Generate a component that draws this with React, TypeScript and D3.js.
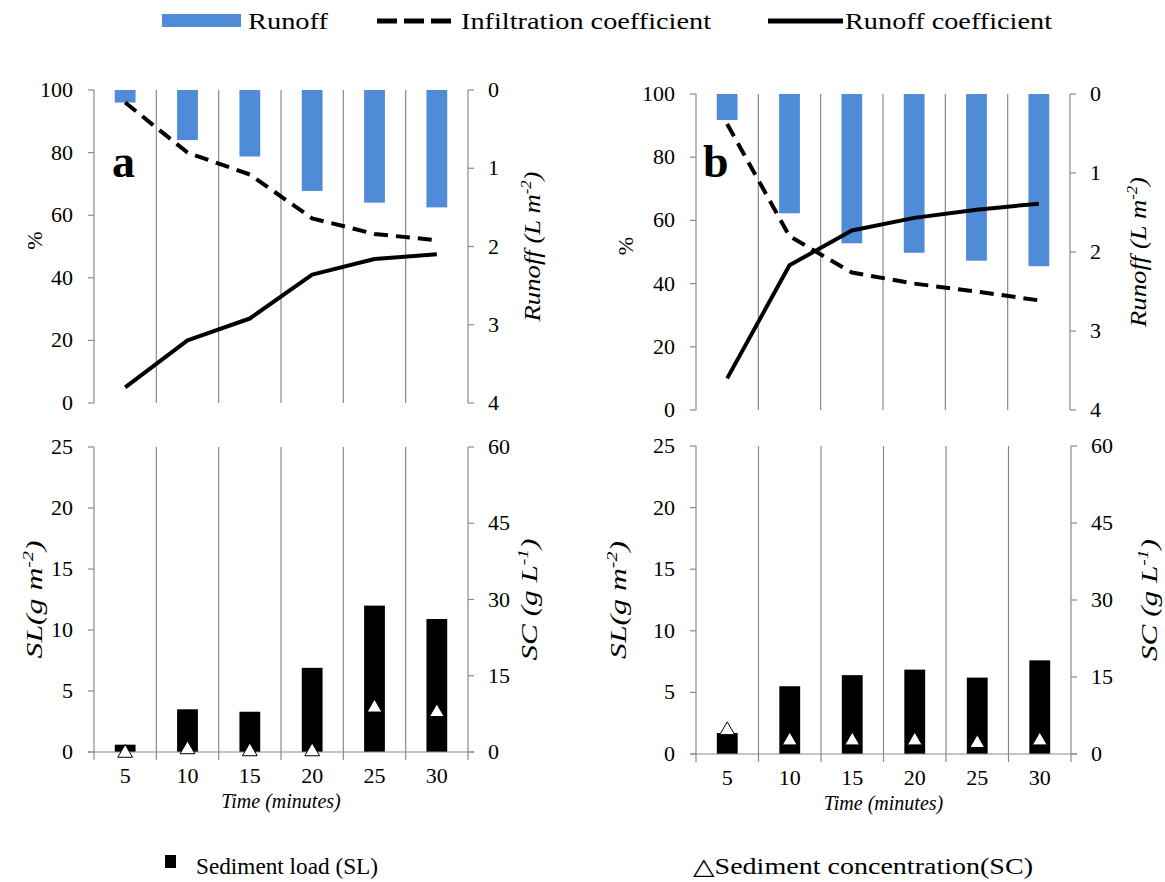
import React from "react";
import * as d3 from "d3";

// ---------- data ----------
const timeLabels = ["5", "10", "15", "20", "25", "30"];

const runoffA = [0.16, 0.64, 0.85, 1.29, 1.44, 1.5];
const infiltrationA = [96, 80, 73, 59, 54, 52];
const runoffCoefA = [5, 20, 27, 41, 46, 47.5];
const sedimentLoadA = [0.6, 3.5, 3.3, 6.9, 12.0, 10.9];
const sedimentConcA = [0, 0.7, 0.3, 0.3, 8.9, 8.0];

const runoffB = [0.33, 1.51, 1.89, 2.01, 2.11, 2.18];
const infiltrationB = [90.5, 55, 43.5, 40, 37.5, 34.7];
const runoffCoefB = [10, 45.8, 56.8, 60.8, 63.4, 65.3];
const sedimentLoadB = [1.7, 5.5, 6.4, 6.85, 6.2, 7.6];
const sedimentConcB = [4.8, 2.8, 2.8, 2.8, 2.3, 2.8];

const pctTicks = [0, 20, 40, 60, 80, 100];
const runoffTicks = [0, 1, 2, 3, 4];
const slTicks = [0, 5, 10, 15, 20, 25];
const scTicks = [0, 15, 30, 45, 60];

// ---------- style ----------
const FONT = "Liberation Serif, Times New Roman, DejaVu Serif, serif";
const GRAY = "#8a8a8a";
const BLUE = "#4F8BD6";
const TICK_FS = 22;

type Box = { x0: number; x1: number; y0: number; y1: number };

function Sup({ base, sup, after }: { base: string; sup: string; after: string }) {
  return (
    <>
      {base}
      <tspan dy={-9} fontSize={15}>{sup}</tspan>
      <tspan dy={9}>{after}</tspan>
    </>
  );
}

function TopPanel(props: {
  box: Box;
  runoff: number[];
  infil: number[];
  coef: number[];
  letter: string;
  letterX: number;
  pctX: number;
  runX: number;
}) {
  const { box, runoff, infil, coef, letter, letterX, pctX, runX } = props;
  const { x0, x1, y0, y1 } = box;
  const x = d3.scaleBand<string>().domain(timeLabels).range([x0, x1]);
  const bw = x.bandwidth();
  const cx = (i: number) => (x(timeLabels[i]) as number) + bw / 2;
  const yP = d3.scaleLinear().domain([0, 100]).range([y1, y0]);
  const yR = d3.scaleLinear().domain([0, 4]).range([y0, y1]);
  const line = d3
    .line<number>()
    .x((_, i) => cx(i))
    .y((d) => yP(d));
  const cyMid = (y0 + y1) / 2;
  return (
    <g>
      {timeLabels.slice(1).map((t) => (
        <line key={t} x1={x(t)} x2={x(t)} y1={y0} y2={y1} stroke={GRAY} strokeWidth={1.2} />
      ))}
      {runoff.map((v, i) => (
        <rect key={i} x={cx(i) - bw / 6} y={yR(0)} width={bw / 3} height={yR(v) - yR(0)} fill={BLUE} />
      ))}
      {/* left axis */}
      <line x1={x0} x2={x0} y1={y0} y2={y1} stroke={GRAY} strokeWidth={1.2} />
      {pctTicks.map((t) => (
        <g key={t}>
          <line x1={x0 - 6} x2={x0} y1={yP(t)} y2={yP(t)} stroke={GRAY} strokeWidth={1.2} />
          <text x={x0 - 21} y={yP(t) + 7} textAnchor="end" fontSize={TICK_FS} fontFamily={FONT}>
            {t}
          </text>
        </g>
      ))}
      {/* right axis */}
      <line x1={x1} x2={x1} y1={y0} y2={y1} stroke={GRAY} strokeWidth={1.2} />
      {runoffTicks.map((t) => (
        <g key={t}>
          <line x1={x1} x2={x1 + 6} y1={yR(t)} y2={yR(t)} stroke={GRAY} strokeWidth={1.2} />
          <text x={x1 + 20} y={yR(t) + 7} textAnchor="start" fontSize={TICK_FS} fontFamily={FONT}>
            {t}
          </text>
        </g>
      ))}
      <path d={line(infil) || ""} fill="none" stroke="#000" strokeWidth={4} strokeDasharray="14,8" />
      <path d={line(coef) || ""} fill="none" stroke="#000" strokeWidth={4} strokeLinejoin="round" />
      <text x={letterX} y={177} fontSize={46} fontWeight="bold" fontFamily={FONT}>
        {letter}
      </text>
      <text transform={`translate(${pctX},${cyMid - 6}) rotate(-90)`} textAnchor="middle" fontSize={22} fontFamily={FONT}>
        %
      </text>
      <text
        transform={`translate(${runX},${cyMid}) rotate(-90)`}
        textAnchor="middle"
        fontSize={24}
        fontStyle="italic"
        fontFamily={FONT}
        textLength={150}
        lengthAdjust="spacingAndGlyphs"
      >
        <Sup base="Runoff (L m" sup="-2" after=")" />
      </text>
    </g>
  );
}

function BottomPanel(props: {
  box: Box;
  sl: number[];
  sc: number[];
  slX: number;
  scX: number;
}) {
  const { box, sl, sc, slX, scX } = props;
  const { x0, x1, y0, y1 } = box;
  const x = d3.scaleBand<string>().domain(timeLabels).range([x0, x1]);
  const bw = x.bandwidth();
  const cx = (i: number) => (x(timeLabels[i]) as number) + bw / 2;
  const yL = d3.scaleLinear().domain([0, 25]).range([y1, y0]);
  const yC = d3.scaleLinear().domain([0, 60]).range([y1, y0]);
  const cyMid = (y0 + y1) / 2;
  const tri = d3.symbol().type(d3.symbolTriangle).size(95);
  const bounds = [...timeLabels.map((t) => x(t) as number), x1];
  return (
    <g>
      {timeLabels.slice(1).map((t) => (
        <line key={t} x1={x(t)} x2={x(t)} y1={y0} y2={y1} stroke={GRAY} strokeWidth={1.2} />
      ))}
      {sl.map((v, i) => (
        <rect key={i} x={cx(i) - bw / 6} y={yL(v)} width={bw / 3} height={yL(0) - yL(v)} fill="#000" />
      ))}
      {/* x axis */}
      <line x1={x0 - 6} x2={x1 + 6} y1={y1} y2={y1} stroke={GRAY} strokeWidth={1.2} />
      {bounds.map((b, i) => (
        <line key={i} x1={b} x2={b} y1={y1} y2={y1 + 8} stroke={GRAY} strokeWidth={1.2} />
      ))}
      {timeLabels.map((t, i) => (
        <text key={t} x={cx(i)} y={y1 + 31} textAnchor="middle" fontSize={TICK_FS} fontFamily={FONT}>
          {t}
        </text>
      ))}
      {/* left axis */}
      <line x1={x0} x2={x0} y1={y0} y2={y1} stroke={GRAY} strokeWidth={1.2} />
      {slTicks.map((t) => (
        <g key={t}>
          <line x1={x0 - 6} x2={x0} y1={yL(t)} y2={yL(t)} stroke={GRAY} strokeWidth={1.2} />
          <text x={x0 - 21} y={yL(t) + 7} textAnchor="end" fontSize={TICK_FS} fontFamily={FONT}>
            {t}
          </text>
        </g>
      ))}
      {/* right axis */}
      <line x1={x1} x2={x1} y1={y0} y2={y1} stroke={GRAY} strokeWidth={1.2} />
      {scTicks.map((t) => (
        <g key={t}>
          <line x1={x1} x2={x1 + 6} y1={yC(t)} y2={yC(t)} stroke={GRAY} strokeWidth={1.2} />
          <text x={x1 + 20} y={yC(t) + 7} textAnchor="start" fontSize={TICK_FS} fontFamily={FONT}>
            {t}
          </text>
        </g>
      ))}
      {sc.map((v, i) => (
        <path
          key={i}
          d={tri() || ""}
          transform={`translate(${cx(i)},${yC(v) + 1})`}
          fill="#fff"
          stroke="#000"
          strokeWidth={1}
        />
      ))}
      <text
        transform={`translate(${slX},${cyMid}) rotate(-90)`}
        textAnchor="middle"
        fontSize={24}
        fontStyle="italic"
        fontFamily={FONT}
        textLength={118}
        lengthAdjust="spacingAndGlyphs"
      >
        <Sup base="SL(g  m" sup="-2" after=")" />
      </text>
      <text
        transform={`translate(${scX},${cyMid}) rotate(-90)`}
        textAnchor="middle"
        fontSize={24}
        fontStyle="italic"
        fontFamily={FONT}
        textLength={122}
        lengthAdjust="spacingAndGlyphs"
      >
        <Sup base="SC (g  L" sup="-1" after=")" />
      </text>
      <text x={(x0 + x1) / 2} y={y1 + 56} textAnchor="middle" fontSize={20} fontStyle="italic" fontFamily={FONT}>
        Time (minutes)
      </text>
    </g>
  );
}

export default function App() {
  return (
    <svg
      width={1165}
      height={882}
      style={{ position: "absolute", left: 0, top: 0, background: "#fff" }}
      xmlSpace="preserve"
    >
      <rect width={1165} height={882} fill="#fff" />
      {/* top legend */}
      <rect x={162} y={14} width={79} height={13} fill={BLUE} />
      <text x={248} y={29} fontSize={24} fontFamily={FONT} textLength={80} lengthAdjust="spacingAndGlyphs">
        Runoff
      </text>
      <line x1={377} x2={451} y1={21} y2={21} stroke="#000" strokeWidth={5} strokeDasharray="20,7" />
      <text x={461} y={29} fontSize={24} fontFamily={FONT} textLength={250} lengthAdjust="spacingAndGlyphs">
        Infiltration coefficient
      </text>
      <line x1={768} x2={843} y1={21} y2={21} stroke="#000" strokeWidth={5} />
      <text x={845} y={29} fontSize={24} fontFamily={FONT} textLength={207} lengthAdjust="spacingAndGlyphs">
        Runoff coefficient
      </text>

      <TopPanel
        box={{ x0: 94, x1: 468, y0: 90, y1: 403 }}
        runoff={runoffA}
        infil={infiltrationA}
        coef={runoffCoefA}
        letter="a"
        letterX={112}
        pctX={42}
        runX={540}
      />
      <TopPanel
        box={{ x0: 696, x1: 1070, y0: 94, y1: 410 }}
        runoff={runoffB}
        infil={infiltrationB}
        coef={runoffCoefB}
        letter="b"
        letterX={703}
        pctX={633}
        runX={1146}
      />
      <BottomPanel box={{ x0: 94, x1: 468, y0: 447, y1: 752 }} sl={sedimentLoadA} sc={sedimentConcA} slX={42} scX={537} />
      <BottomPanel box={{ x0: 696, x1: 1071, y0: 446, y1: 754 }} sl={sedimentLoadB} sc={sedimentConcB} slX={626} scX={1157} />

      {/* bottom legend */}
      <rect x={165} y={855} width={11} height={13} fill="#000" />
      <text x={196} y={874} fontSize={23} fontFamily={FONT} textLength={182} lengthAdjust="spacingAndGlyphs">
        Sediment load (SL)
      </text>
      <text x={693} y={874} fontSize={23} fontFamily={FONT} textLength={340} lengthAdjust="spacingAndGlyphs">
        △Sediment concentration(SC)
      </text>
    </svg>
  );
}
